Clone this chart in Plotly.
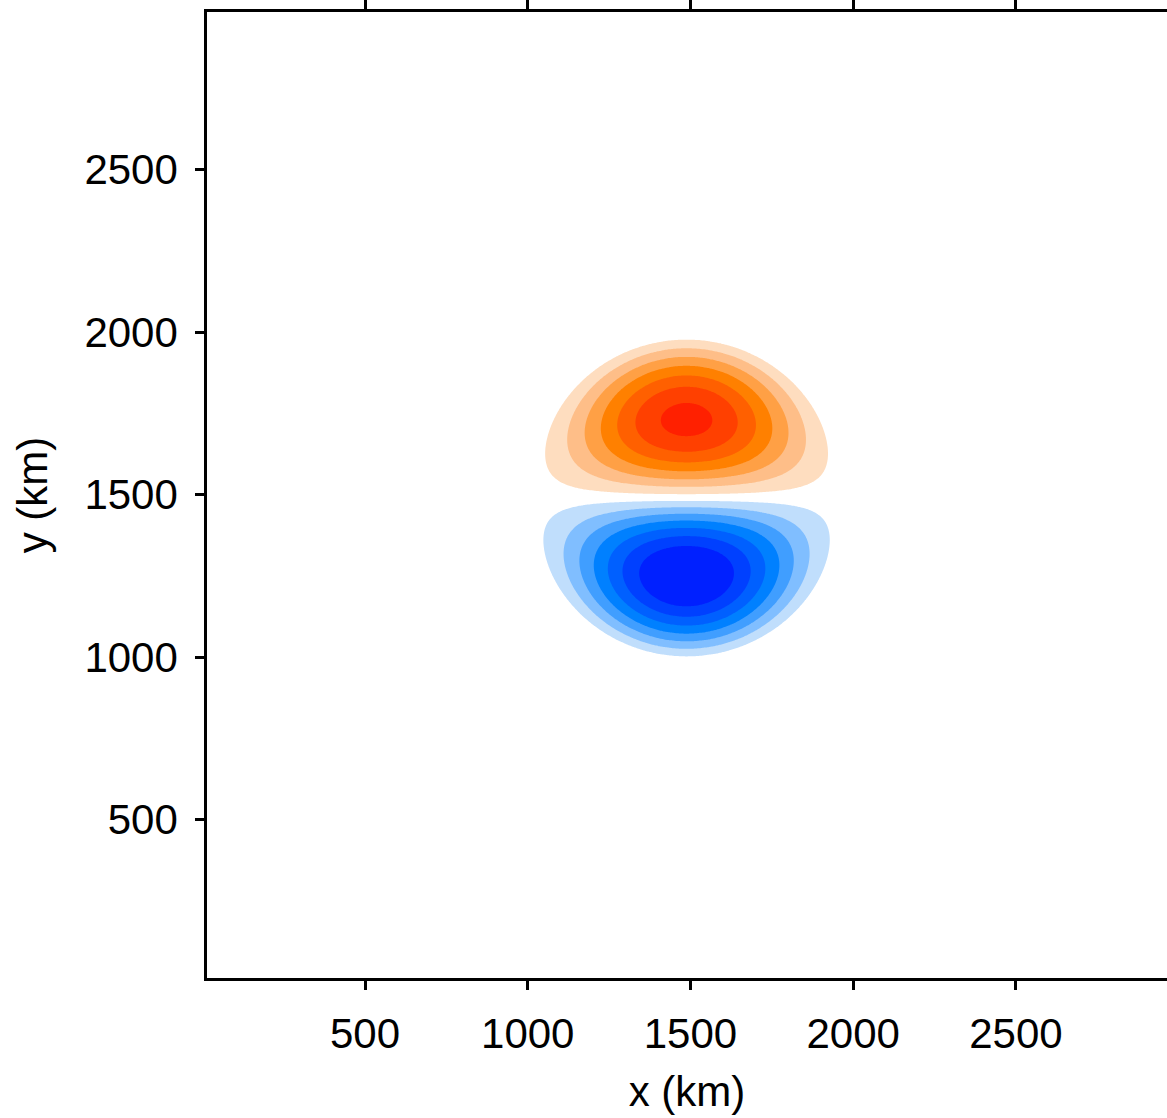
import numpy as np
import plotly.graph_objects as go

# ---- values ----
DIPOLE_CENTER_X = 1488.0      # km
DIPOLE_CENTER_Y = 1490.0      # km
DIPOLE_RADIUS = 500.0         # km (edge of the dipole)
AMP_POS = 11.8                # amplitude of the upper (positive) lobe, in level units
AMP_NEG = 13.5                # amplitude of the lower (negative) lobe, in level units

LEVEL_START = -6.5
LEVEL_END = 6.5
LEVEL_STEP = 1.0

BAND_COLORS = [
    "#0020FF", "#0040FF", "#0060FF", "#0080FF", "#409EFF", "#80BEFF", "#C0DEFC",
    "#FFFFFF",
    "#FEDDBF", "#FEBE88", "#FFA045", "#FF8000", "#FF6000", "#FF4000", "#FF2000",
]

X_TICKS = [500, 1000, 1500, 2000, 2500]
Y_TICKS = [500, 1000, 1500, 2000, 2500]
X_RANGE = [14.4, 2964.2]
Y_RANGE = [12.3, 2984.6]

# ---- field (Lamb–Chaplygin dipole vorticity) ----
def bessel_j1(xv):
    tau = np.linspace(0.0, np.pi, 401)
    vals = np.cos(tau[None, :] - xv[:, None] * np.sin(tau[None, :]))
    return np.trapezoid(vals, tau, axis=1) / np.pi

k = 3.831705970 / DIPOLE_RADIUS
r_tab = np.linspace(0.0, DIPOLE_RADIUS, 3001)
j_tab = bessel_j1(k * r_tab)

fine = np.arange(900.0, 2100.0 + 1e-9, 5.0)
coarse_lo = np.arange(-200.0, 900.0, 100.0)
coarse_hi = np.arange(2200.0, 3201.0, 100.0)
gx = np.concatenate([coarse_lo, fine, coarse_hi])
gy = np.concatenate([coarse_lo, fine, coarse_hi])
X, Y = np.meshgrid(gx, gy)
dx = X - DIPOLE_CENTER_X
dy = Y - DIPOLE_CENTER_Y
r = np.hypot(dx, dy)
sin_t = np.where(r > 0, dy / np.maximum(r, 1e-9), 0.0)
prof = np.interp(np.minimum(r, DIPOLE_RADIUS), r_tab, j_tab)
amp = np.where(dy >= 0, AMP_POS, AMP_NEG)
Z = np.where(r < DIPOLE_RADIUS, amp * prof * sin_t, 0.0)
Z = np.round(Z, 3)

n = len(BAND_COLORS)
colorscale = [[i / (n - 1), c] for i, c in enumerate(BAND_COLORS)]

fig = go.Figure(
    go.Contour(
        x=gx, y=gy, z=Z,
        autocontour=False,
        contours=dict(start=LEVEL_START, end=LEVEL_END, size=LEVEL_STEP,
                      coloring="fill", showlines=False),
        colorscale=colorscale,
        line=dict(width=0),
        showscale=False,
        hoverinfo="skip",
    )
)

FONT = "Liberation Sans, Arial, sans-serif"
axis_common = dict(
    showgrid=False, zeroline=False,
    showline=True, linecolor="black", linewidth=2.5,
    ticks="outside", ticklen=9, tickwidth=2.5, tickcolor="black",
    tickfont=dict(family=FONT, size=42, color="black"),
)

fig.update_layout(
    width=1167, height=1118,
    margin=dict(l=207, r=0, t=12, b=140),
    paper_bgcolor="white", plot_bgcolor="white",
    font=dict(family=FONT, size=42, color="black"),
    showlegend=False,
    xaxis=dict(range=X_RANGE, tickvals=X_TICKS, mirror="ticks", ticklabelstandoff=8,
               title=dict(text="x (km)", font=dict(family=FONT, size=42), standoff=21),
               **axis_common),
    yaxis=dict(range=Y_RANGE, tickvals=Y_TICKS, mirror=False, ticklabelstandoff=9,
               title=dict(text="y (km)", font=dict(family=FONT, size=42), standoff=24),
               **axis_common),
)

fig.write_html(
    "out.html",
    config={"displayModeBar": False},
    post_script="document.body.style.margin='0';document.body.style.overflow='hidden';",
)
